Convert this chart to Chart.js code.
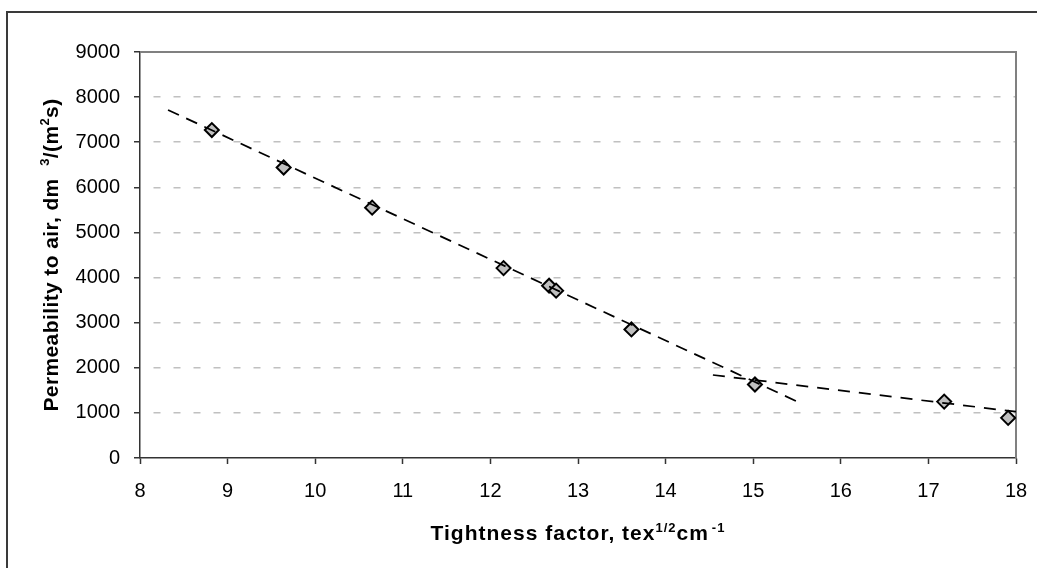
<!DOCTYPE html>
<html>
<head>
<meta charset="utf-8">
<script src="https://cdn.jsdelivr.net/npm/chart.js@4.4.0/dist/chart.umd.min.js"></script>
<style>
  html, body { margin: 0; padding: 0; background: #fff; }
  #wrap { width: 1037px; height: 568px; }
</style>
</head>
<body>
<div id="wrap"><canvas id="permChart" width="1037" height="568"></canvas></div>
<script>
// measured fabrics: tightness factor vs air permeability
const tightness = [8.82, 9.64, 10.65, 12.15, 12.67, 12.75, 13.61, 15.02, 17.18, 17.91];
const permeability = [7270, 6440, 5550, 4210, 3820, 3710, 2850, 1630, 1250, 890];

// trend lines (end points)
const trendLowX = [8.32, 15.53];
const trendLowY = [7716, 1226];
const trendHighX = [14.54, 18.0];
const trendHighY = [1840, 1026];

const xTicks = [8, 9, 10, 11, 12, 13, 14, 15, 16, 17, 18];
const yTicks = [0, 1000, 2000, 3000, 4000, 5000, 6000, 7000, 8000, 9000];

const toPoints = (xs, ys) => xs.map((x, i) => ({ x: x, y: ys[i] }));

const FONT = '"Liberation Sans", Arial, sans-serif';

// draws text with superscript pieces, centred on (x, y) baseline
function drawRich(c, parts, x, y, size, supSize, spacing) {
  c.textBaseline = 'alphabetic';
  c.textAlign = 'left';
  c.letterSpacing = (spacing || 0) + 'px';
  let total = 0;
  parts.forEach(p => {
    c.font = 'bold ' + (p.sup ? supSize : size) + 'px ' + FONT;
    p.w = c.measureText(p.t).width + (p.gap || 0);
    total += p.w;
  });
  let cx = x - total / 2;
  parts.forEach(p => {
    c.font = 'bold ' + (p.sup ? supSize : size) + 'px ' + FONT;
    c.fillText(p.t, cx + (p.gap || 0), p.sup ? y - size * 0.4 : y);
    cx += p.w;
  });
  c.letterSpacing = '0px';
}

const decor = {
  id: 'decor',
  beforeDraw(chart) {
    const c = chart.ctx;
    c.save();
    c.fillStyle = '#fff';
    c.fillRect(0, 0, chart.width, chart.height);
    c.strokeStyle = '#3a3a3a';
    c.lineWidth = 2;
    c.beginPath();
    c.moveTo(7, chart.height);
    c.lineTo(7, 12);
    c.lineTo(chart.width, 12);
    c.stroke();
    c.restore();
  },
  beforeDatasetsDraw(chart) {
    const a = chart.chartArea;
    const c = chart.ctx;
    c.save();
    c.strokeStyle = '#808080';
    c.lineWidth = 2;
    c.beginPath();
    c.moveTo(a.left, a.top);
    c.lineTo(a.right, a.top);
    c.lineTo(a.right, a.bottom);
    c.stroke();
    c.restore();
  },
  afterDraw(chart) {
    const a = chart.chartArea;
    const c = chart.ctx;
    const xs = chart.scales.x;
    c.save();
    c.fillStyle = '#000';

    // x tick labels, placed from the scale's own ticks
    c.font = '20px ' + FONT;
    c.textAlign = 'center';
    c.textBaseline = 'alphabetic';
    xs.ticks.forEach(t => {
      c.fillText(String(t.value), xs.getPixelForValue(t.value), a.bottom + 39);
    });

    drawRich(c, [
      { t: 'Tightness factor, tex' },
      { t: '1/2', sup: true },
      { t: 'cm' },
      { t: '-1', sup: true, gap: 3 }
    ], (a.left + a.right) / 2, 540, 21, 13, 1);
    c.translate(57.5, (a.top + a.bottom) / 2);
    c.rotate(-Math.PI / 2);
    drawRich(c, [
      { t: 'Permeability to air, dm  ' },
      { t: '3', sup: true },
      { t: '/(m' },
      { t: '2', sup: true },
      { t: 's)' }
    ], 0, 0, 21, 13, 0.4);
    c.restore();
  }
};

new Chart(document.getElementById('permChart'), {
  type: 'scatter',
  data: {
    datasets: [
      {
        label: 'Trend 1',
        data: toPoints(trendLowX, trendLowY),
        showLine: true,
        borderColor: '#000',
        borderWidth: 1.75,
        borderDash: [12, 8],
        pointRadius: 0,
        order: 0
      },
      {
        label: 'Trend 2',
        data: toPoints(trendHighX, trendHighY),
        showLine: true,
        borderColor: '#000',
        borderWidth: 1.75,
        borderDash: [12, 9],
        pointRadius: 0,
        order: 0
      },
      {
        label: 'Permeability',
        data: toPoints(tightness, permeability),
        pointStyle: 'rectRot',
        pointRadius: 7,
        pointBackgroundColor: '#c0c0c0',
        pointBorderColor: '#000',
        pointBorderWidth: 2,
        order: 1
      }
    ]
  },
  options: {
    responsive: false,
    devicePixelRatio: 1,
    animation: false,
    layout: { padding: { left: 0, top: 52, right: 21, bottom: 0 } },
    plugins: {
      legend: { display: false },
      tooltip: { enabled: false }
    },
    scales: {
      x: {
        type: 'linear',
        min: 8,
        max: 18,
        afterBuildTicks: s => { s.ticks = xTicks.map(v => ({ value: v })); },
        afterFit: s => { s.height = 110; },
        grid: {
          color: 'rgba(0,0,0,0)',
          tickColor: '#333',
          tickLength: 6,
          tickWidth: 1.5
        },
        border: { color: '#333', width: 1.5 },
        ticks: { display: false }
      },
      y: {
        type: 'linear',
        min: 0,
        max: 9000,
        afterBuildTicks: s => { s.ticks = yTicks.map(v => ({ value: v })); },
        afterFit: s => { s.width = 140; },
        grid: {
          color: ctx => (ctx.tick && (ctx.tick.value === 0 || ctx.tick.value === 9000)) ? 'rgba(0,0,0,0)' : '#c0c0c0',
          lineWidth: 1.5,
          tickColor: '#333',
          tickLength: 6,
          tickWidth: 1.5
        },
        border: { color: '#333', width: 1.5, dash: [7, 13], dashOffset: 7 },
        ticks: {
          color: '#000',
          padding: 14,
          font: { family: FONT, size: 20 },
          callback: v => String(v)
        }
      }
    }
  },
  plugins: [decor]
});
</script>
</body>
</html>
